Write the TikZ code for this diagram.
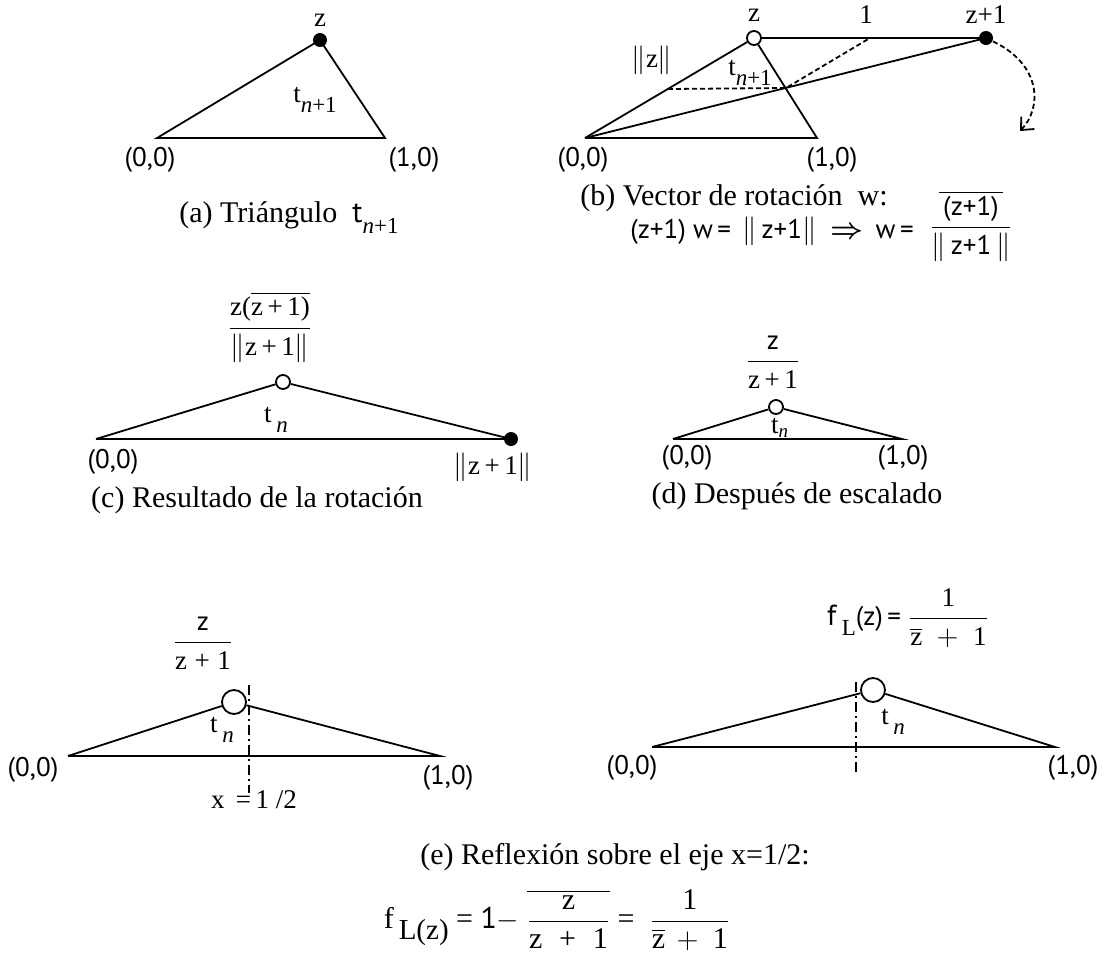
\documentclass[tikz,border=0pt]{standalone}
\usepackage{amsmath,amssymb}
\usepackage{fontspec}
\setmainfont{Liberation Serif}
\setsansfont{PT Sans}
\usetikzlibrary{arrows.meta}
\newcommand{\lowsub}[1]{\raisebox{-0.8ex}{\fontsize{11.5}{13}\selectfont #1}}

\begin{document}
\begin{tikzpicture}[
          x=0.5pt, y=-0.5pt, line width=0.9pt,
          lab/.style={font=\fontsize{13.5}{16}\selectfont, inner sep=0},
          ptlab/.style={font=\sffamily\fontsize{13.5}{16}\selectfont, inner sep=0},
          captxt/.style={font=\fontsize{15}{18}\selectfont, inner sep=0},
          fdot/.style={circle, fill, inner sep=0, minimum size=7pt},
          odot/.style={circle, draw, fill=white, inner sep=0, minimum size=7pt},
          bigdot/.style={circle, draw, fill=white, inner sep=0, minimum size=12pt},
          mirror/.style={line width=0.8pt, dash pattern=on 5pt off 2pt on 1pt off 2pt},
          helper/.style={dash pattern=on 2.5pt off 1.5pt}
      ]
        \useasboundingbox (0,0) rectangle (1105,954);

        % (a)
        \coordinate (a0) at (157,138);
        \coordinate (a1) at (385,138);
        \node[fdot] (az) at (320,40) {};
        \draw (a0) -- (az.center) -- (a1) -- cycle;
        \node[lab] (az-l) at (320,20) {z};
        \node[lab] (a-t) at (315,100) {t\lowsub{\textit{n}+1}};
        \node[ptlab] (a0-l) at (150,160) {(0,0)};
        \node[ptlab] (a1-l) at (414,160) {(1,0)};
        \node[captxt] (a-cap) at (289,218) {(a) Triángulo \ \textsf{t}\lowsub{\textit{n}+1}};

        % (b)
        \coordinate (b0) at (585,138);
        \coordinate (b1) at (817,138);
        \node[odot] (bz) at (754,38) {};
        \node[fdot] (bw) at (986,38) {};
        \draw (b0) -- (b1) -- (bz) -- (b0);
        \draw (bz) -- (bw.center);
        \draw (b0) -- (bw.center);
        \coordinate (bm) at (668,89);
        \coordinate (bx) at (786,88);
        \coordinate (bu) at (870,38);
        \draw[helper] (bm) -- (bx) -- (bu);
        \coordinate (b-end) at (1020,131);
        \draw[helper, -{Straight Barb[length=5pt, width=9pt]}] (bw) .. controls (1042,65) and (1042,108) .. (b-end);
        \node[lab] (bz-l) at (754,15) {z};
        \node[lab] (bu-l) at (866,15) {1};
        \node[lab] (bw-l) at (986,15) {z+1};
        \node[lab] (b-norm) at (652,60) {$\|$z$\|$};
        \node[lab] (b-t) at (750,73) {t\lowsub{\textit{n}+1}};
        \node[ptlab] (b0-l) at (583,160) {(0,0)};
        \node[ptlab] (b1-l) at (832,160) {(1,0)};
        \node[captxt] (b-cap) at (734,198) {(b) Vector de rotación \ w:};
        \node[ptlab] (b-eq) at (772,231) {(z+1) w\,=\, $\|$\,z+1$\|$ \ $\boldsymbol{\Rightarrow}$\ \,w\,=};
        \node[ptlab] (b-frac) at (971,226) {$\dfrac{\overline{\textsf{\,(z+1)\,}}}{\|\,\textsf{z+1}\,\|}$};

        % (c)
        \coordinate (c0) at (96,439);
        \node[fdot] (cw) at (511,439) {};
        \node[odot] (cz) at (283,382) {};
        \draw (c0) -- (cw.center) -- (cz) -- (c0);
        \node[lab] (cz-l) at (270,327) {$\dfrac{\textrm{z(}\overline{\textrm{z\,+\,1)}}}{\|\textrm{z\,+\,1}\|}$};
        \node[lab] (c-t) at (276,420) {t\,\lowsub{\textit{n}}};
        \node[ptlab] (c0-l) at (113,462) {(0,0)};
        \node[lab] (cw-l) at (493,467) {$\|$z\,+\,1$\|$};
        \node[captxt] (c-cap) at (257,500) {(c) Resultado de la rotación};

        % (d)
        \coordinate (d0) at (673,439);
        \coordinate (d1) at (902,439);
        \node[odot] (dz) at (776,407) {};
        \draw (d0) -- (d1) -- (dz) -- (d0);
        \node[lab] (dz-l) at (773,362) {$\dfrac{\textsf{z}}{\textrm{z\,+\,1}}$};
        \node[lab] (d-t) at (780,428) {t\textsubscript{\textit{n}}};
        \node[ptlab] (d0-l) at (687,458) {(0,0)};
        \node[ptlab] (d1-l) at (903,458) {(1,0)};
        \node[captxt] (d-cap) at (797,496) {(d) Después de escalado};

        % (e) left
        \coordinate (e0) at (68,756);
        \coordinate (e1) at (440,756);
        \node[bigdot] (ez) at (234,702) {};
        \draw (e0) -- (e1) -- (ez) -- (e0);
        \coordinate (e-top) at (249,685);
        \coordinate (e-bot) at (249,793);
        \draw[mirror] (e-top) -- (e-bot);
        \node[lab] (ez-l) at (203,643) {$\dfrac{\textsf{z}}{\textrm{z\;+\;1}}$};
        \node[lab] (e-t) at (222,730) {t\,\lowsub{\textit{n}}};
        \node[ptlab] (e0-l) at (33,770) {(0,0)};
        \node[ptlab] (e1-l) at (448,778) {(1,0)};
        \node[lab] (e-ax) at (254,800) {x \,=\,1 /2};

        % (e) right
        \coordinate (f0) at (652,747);
        \coordinate (f1) at (1055,747);
        \node[bigdot] (fz) at (873,690) {};
        \draw (f0) -- (f1) -- (fz) -- (f0);
        \coordinate (f-top) at (856,682);
        \coordinate (f-bot) at (856,775);
        \draw[mirror] (f-top) -- (f-bot);
        \node[lab] (fz-l) at (908,618) {\textsf{\fontsize{14.5}{16}\selectfont f}\,\lowsub{L}\textsf{(z)\,=} $\dfrac{\textrm{1}}{\overline{\textrm{z}}\;+\;\textrm{1}}$};
        \node[lab] (f-t) at (893,722) {t\,\lowsub{\textit{n}}};
        \node[ptlab] (f0-l) at (632,768) {(0,0)};
        \node[ptlab] (f1-l) at (1073,768) {(1,0)};

        \node[captxt] (e-cap) at (615,857) {(e) Reflexión sobre el eje x=1/2:};
        \node[lab, font=\fontsize{15}{18}\selectfont] (e-eq) at (557,920) {f\,\lowsub{\fontsize{14.5}{17}\selectfont L(z)} = \textsf{1}$-$\ $\overline{\dfrac{\textrm{\ z\ }}{\textrm{z\;\;+\;\;1}}}$ = \ $\dfrac{\textrm{1}}{\overline{\textrm{z}}\,+\;\textrm{1}}$};
      \end{tikzpicture}
\end{document}
